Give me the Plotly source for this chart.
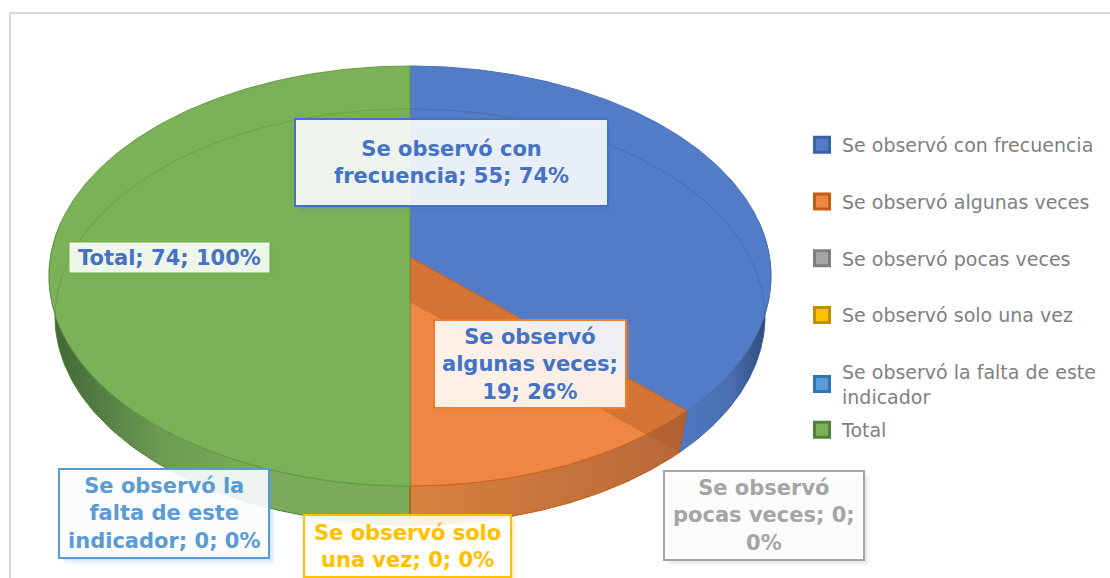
import math
import plotly.graph_objects as go

categories = ["Se observó con frecuencia", "Se observó algunas veces", "Se observó pocas veces",
              "Se observó solo una vez", "Se observó la falta de este indicador", "Total"]
values = [55, 19, 0, 0, 0, 74]
percents = [74, 26, 0, 0, 0, 100]
fills = ["#527cc7", "#ee8743", "#a5a5a5", "#ffc000", "#5b9bd5", "#7bb257"]
edges = ["#3a62a8", "#c55a11", "#7f7f7f", "#bf9000", "#2e75b6", "#548235"]
face_edges = ["#4a72ba", "#c9651f", "#7f7f7f", "#bf9000", "#2e75b6", "#649c45"]
label_colors = ["#4472c4", "#4472c4", "#a5a5a5", "#ffc000", "#5b9bd5", "#4472c4"]
label_borders = ["#4472c4", "#ed7d31", "#a5a5a5", "#ffc000", "#5b9bd5", "#70ad47"]
label_boxes = [(295, 119, 608, 206), (434, 320, 626, 408), (664, 471, 864, 560),
               (304, 515, 511, 577), (59, 469, 269, 558), (69, 242, 270, 273)]
side_scales = [
    [[0, "#4f78c0"], [0.55, "#4a70b3"], [1, "#2c4670"]],
    [[0, "#d88240"], [1, "#b8683a"]],
    None, None, None,
    [[0, "#3f6436"], [0.3, "#6b9a52"], [0.55, "#7aab5a"], [1, "#7aab5a"]],
]
side_ranges = [(80, None), (None, None), None, None, None, (None, 280)]


def top_pt(t):
    u, v = math.sin(math.radians(t)), math.cos(math.radians(t))
    w = 1 + 0.0905 * v
    return 410 + 359.5 * u / w, 257 - 208.3 * v / w


def bottom_pt(t):
    u, v = math.sin(math.radians(t)), math.cos(math.radians(t))
    w = 1 + 0.072 * v
    return 410 + 354 * u / w, 302 - 207 * v / w


def arc(fn, a, b, n=90):
    pts = [fn(a + (b - a) * i / n) for i in range(n + 1)]
    return [p[0] for p in pts], [p[1] for p in pts]


def label_text(i):
    v, p = values[i], percents[i]
    return [
        f"Se observó con<br>frecuencia; {v}; {p}%",
        f"Se observó<br>algunas veces;<br>{v}; {p}%",
        f"Se observó<br>pocas veces; {v};<br>{p}%",
        f"Se observó solo<br>una vez; {v}; {p}%",
        f"Se observó la<br>falta de este<br>indicador; {v}; {p}%",
        f"Total; {v}; {p}%",
    ][i]


total = sum(values)
starts = [sum(values[:i]) / total * 360 for i in range(len(values))]
ends = [sum(values[:i + 1]) / total * 360 for i in range(len(values))]

fig = go.Figure()

# side walls
for i, scale in enumerate(side_scales):
    if not scale or values[i] == 0:
        continue
    a = max(starts[i], side_ranges[i][0]) if side_ranges[i][0] is not None else starts[i]
    b = min(ends[i], side_ranges[i][1]) if side_ranges[i][1] is not None else ends[i]
    tx, ty = arc(top_pt, a, b)
    bx, by = arc(bottom_pt, b, a)
    fig.add_trace(go.Scatter(x=tx + bx + tx[:1], y=ty + by + ty[:1], mode="lines", fill="toself",
                             line=dict(color=edges[i], width=1),
                             fillgradient=dict(type="horizontal", colorscale=scale),
                             showlegend=False, hoverinfo="skip"))

# top faces
for i, v in enumerate(values):
    if v == 0:
        continue
    ax, ay = arc(top_pt, starts[i], ends[i], 180)
    vx, vy = 410, 257
    fig.add_trace(go.Scatter(x=[vx] + ax + [vx], y=[vy] + ay + [vy], mode="lines", fill="toself",
                             fillcolor=fills[i], line=dict(color=face_edges[i], width=1),
                             showlegend=False, hoverinfo="skip"))

# the far wall of the orange slice, seen through its top
p0, p1 = top_pt(ends[0]), bottom_pt(ends[0])
fig.add_trace(go.Scatter(x=[410, p0[0], p1[0], 410, 410], y=[257, p0[1], p1[1], 302, 257], mode="lines",
                         fill="toself", fillcolor="rgba(170,85,35,0.38)", line=dict(color="rgba(0,0,0,0)", width=0),
                         showlegend=False, hoverinfo="skip"))

# base circle seen through the top
for a, b, col in [(0, 100, "rgba(40,70,130,0.28)"), (-100, 0, "rgba(70,120,50,0.32)")]:
    rx, ry = arc(bottom_pt, a, b)
    fig.add_trace(go.Scatter(x=rx, y=ry, mode="lines", line=dict(color=col, width=1),
                             showlegend=False, hoverinfo="skip"))

# divider through the green/orange walls
fig.add_trace(go.Scatter(x=[410, 410], y=[top_pt(180)[1], bottom_pt(180)[1]], mode="lines",
                         line=dict(color="#c55a11", width=1), showlegend=False, hoverinfo="skip"))

# legend entries
for i, cat in enumerate(categories):
    name = cat.replace("este indicador", "este<br>indicador")
    fig.add_trace(go.Scatter(x=[None], y=[None], mode="markers", name=name,
                             legend="legend2" if i == 5 else "legend",
                             legendgroup=str(i),
                             marker=dict(symbol="square", size=15, color=fills[i], line=dict(color=edges[i], width=3))))

# data labels
shapes = [dict(type="rect", xref="x", yref="y", x0=10, x1=1130, y0=13, y1=600,
               line=dict(color="#d9d9d9", width=2), layer="below")]
annotations = []
for i, (x0, y0, x1, y1) in enumerate(label_boxes):
    for off, op in [(6, 0.07), (4, 0.1), (2, 0.12)]:
        shapes.append(dict(type="rect", x0=x0 + off, x1=x1 + off, y0=y0 + off, y1=y1 + off,
                           fillcolor=label_borders[i], opacity=op, line=dict(width=0), layer="above"))
    shapes.append(dict(type="rect", x0=x0, x1=x1, y0=y0, y1=y1, fillcolor="rgba(255,255,255,0.88)",
                       line=dict(color=label_borders[i], width=1 if i == 5 else 2), layer="above"))
    annotations.append(dict(x=(x0 + x1) / 2, y=(y0 + y1) / 2, text=f"<b>{label_text(i)}</b>", showarrow=False,
                            font=dict(family="DejaVu Sans", size=21, color=label_colors[i]), align="center"))

legend_font = dict(family="DejaVu Sans", size=19, color="#7f7f7f")
fig.update_layout(
    width=1110, height=578, margin=dict(l=0, r=0, t=0, b=0),
    paper_bgcolor="white", plot_bgcolor="white", shapes=shapes, annotations=annotations,
    xaxis=dict(range=[0, 1110], visible=False, fixedrange=True),
    yaxis=dict(range=[578, 0], visible=False, fixedrange=True),
    legend=dict(x=802 / 1110, y=1 - 126 / 578, xanchor="left", yanchor="top", tracegroupgap=29,
                bgcolor="rgba(0,0,0,0)", font=legend_font, itemclick=False, itemdoubleclick=False),
    legend2=dict(x=802 / 1110, y=1 - 411 / 578, xanchor="left", yanchor="top",
                 bgcolor="rgba(0,0,0,0)", font=legend_font, itemclick=False, itemdoubleclick=False),
)

fig.write_html("out.html", config=dict(displayModeBar=False),
               post_script="document.body.style.margin='0';document.body.style.overflow='hidden';")
